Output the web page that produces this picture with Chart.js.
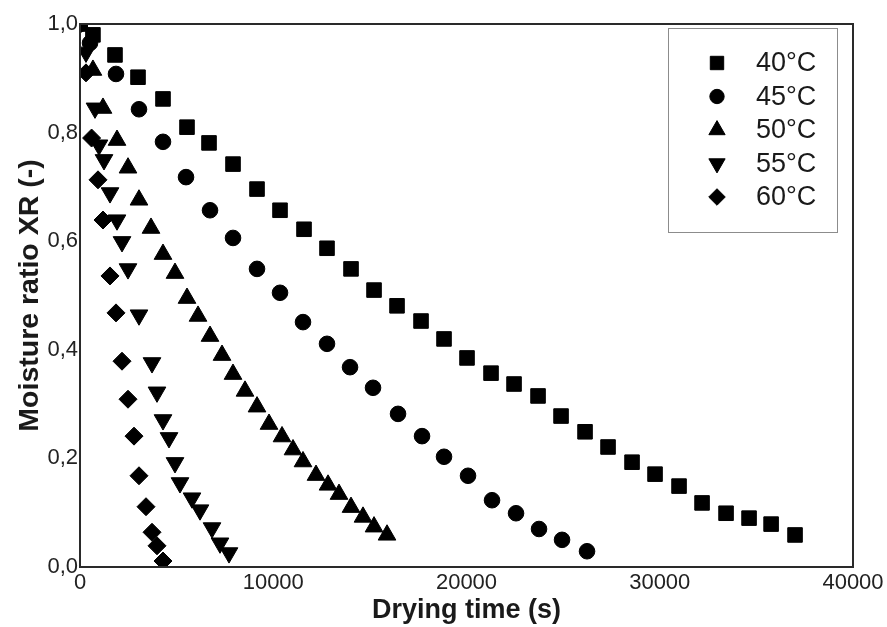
<!DOCTYPE html>
<html>
<head>
<meta charset="utf-8">
<script src="https://cdn.jsdelivr.net/npm/chart.js@4.4.1/dist/chart.umd.min.js"></script>
<style>
  html, body { margin: 0; padding: 0; background: #ffffff; }
  #c { display: block; }
</style>
</head>
<body>
<canvas id="c" width="887" height="627"></canvas>
<script>
// ---- Data ----
const seriesLabels = ['40°C', '45°C', '50°C', '55°C', '60°C'];

const time40 = [0, 670, 1811, 3002, 4295, 5537, 6676, 7918, 9160, 10350, 11592, 12782, 14024, 15215, 16405, 17647, 18837, 20027, 21269, 22460, 23702, 24892, 26134, 27324, 28566, 29756, 30998, 32189, 33431, 34621, 35762, 37001];
const xr40   = [1.0, 0.98, 0.943, 0.902, 0.862, 0.81, 0.781, 0.742, 0.696, 0.657, 0.622, 0.587, 0.549, 0.510, 0.481, 0.453, 0.420, 0.385, 0.357, 0.337, 0.315, 0.278, 0.249, 0.221, 0.193, 0.171, 0.149, 0.118, 0.099, 0.090, 0.079, 0.059];

const time45 = [0, 520, 1863, 3053, 4295, 5486, 6728, 7918, 9160, 10350, 11540, 12782, 13973, 15163, 16457, 17699, 18837, 20079, 21321, 22563, 23753, 24944, 26237];
const xr45   = [1.0, 0.965, 0.908, 0.843, 0.783, 0.718, 0.657, 0.606, 0.549, 0.505, 0.451, 0.411, 0.368, 0.330, 0.282, 0.241, 0.203, 0.168, 0.123, 0.099, 0.070, 0.050, 0.029];

const time50 = [0, 670, 1190, 1915, 2484, 3053, 3674, 4295, 4916, 5537, 6107, 6728, 7349, 7918, 8539, 9160, 9781, 10454, 11023, 11540, 12213, 12834, 13403, 14024, 14645, 15215, 15887];
const xr50   = [1.0, 0.915, 0.845, 0.786, 0.735, 0.676, 0.624, 0.576, 0.541, 0.495, 0.462, 0.425, 0.39, 0.355, 0.324, 0.295, 0.263, 0.240, 0.216, 0.194, 0.169, 0.151, 0.134, 0.110, 0.092, 0.074, 0.059];

const time55 = [0, 310, 776, 983, 1242, 1553, 1915, 2174, 2484, 3053, 3726, 3985, 4295, 4606, 4916, 5175, 5796, 6210, 6831, 7245, 7711];
const xr55   = [1.0, 0.948, 0.845, 0.777, 0.75, 0.689, 0.639, 0.599, 0.549, 0.464, 0.376, 0.322, 0.271, 0.238, 0.192, 0.155, 0.127, 0.105, 0.072, 0.044, 0.026];

const time60 = [0, 310, 600, 932, 1190, 1553, 1863, 2174, 2484, 2795, 3053, 3416, 3726, 3985, 4295];
const xr60   = [1.0, 0.91, 0.79, 0.713, 0.639, 0.536, 0.468, 0.379, 0.309, 0.241, 0.168, 0.111, 0.064, 0.039, 0.011];

const xTickValues = [0, 10000, 20000, 30000, 40000];
const yTickValues = [0.0, 0.2, 0.4, 0.6, 0.8, 1.0];

// ---- Build datasets ----
function pts(t, v) { return t.map((x, i) => ({ x: x, y: v[i] })); }

const styles = [
  { pointStyle: 'rect',     radius: 10.3, rotation: 0 },
  { pointStyle: 'circle',   radius: 7.8,  rotation: 0 },
  { pointStyle: 'triangle', radius: 10.2, rotation: 0 },
  { pointStyle: 'triangle', radius: 10.2, rotation: 180 },
  { pointStyle: 'rectRot',  radius: 9,    rotation: 0 }
];
const allData = [pts(time40, xr40), pts(time45, xr45), pts(time50, xr50), pts(time55, xr55), pts(time60, xr60)];

const datasets = allData.map((d, i) => ({
  label: seriesLabels[i],
  data: d,
  showLine: false,
  pointStyle: styles[i].pointStyle,
  pointRadius: styles[i].radius,
  pointRotation: styles[i].rotation,
  pointBackgroundColor: '#000000',
  pointBorderColor: '#000000',
  pointBorderWidth: 1,
  pointHoverRadius: styles[i].radius
}));

// ---- Plugins: frame box and in-plot legend ----
const framePlugin = {
  id: 'frame',
  afterDraw(chart) {
    const a = chart.chartArea, ctx = chart.ctx;
    ctx.save();
    ctx.strokeStyle = '#2a2a2a';
    ctx.lineWidth = 2;
    ctx.strokeRect(a.left, a.top, a.right - a.left, a.bottom - a.top);
    ctx.restore();
  }
};

const legendPlugin = {
  id: 'insideLegend',
  afterDraw(chart) {
    const ctx = chart.ctx;
    const a = chart.chartArea;
    const boxL = a.right - 185, boxT = a.top + 4, boxW = 169, boxH = 204;
    ctx.save();
    ctx.fillStyle = '#ffffff';
    ctx.fillRect(boxL, boxT, boxW, boxH);
    ctx.strokeStyle = '#8c8c8c';
    ctx.lineWidth = 1;
    ctx.strokeRect(boxL + 0.5, boxT + 0.5, boxW, boxH);
    const rowH = 33.5;
    chart.data.datasets.forEach((ds, i) => {
      const y = boxT + 35 + i * rowH;
      const x = boxL + 49;
      ctx.fillStyle = '#000000';
      ctx.strokeStyle = '#000000';
      const opts = { pointStyle: ds.pointStyle, radius: ds.pointRadius * 0.92, rotation: ds.pointRotation, borderWidth: 1 };
      if (Chart.helpers && Chart.helpers.drawPoint) {
        Chart.helpers.drawPoint(ctx, opts, x, y);
      }
      ctx.fillStyle = '#1a1a1a';
      ctx.font = '27px "Liberation Sans", Arial, sans-serif';
      ctx.textAlign = 'left';
      ctx.textBaseline = 'middle';
      ctx.fillText(ds.label, boxL + 88, y + 1);
    });
    ctx.restore();
  }
};

const FONT = '"Liberation Sans", Arial, Helvetica, sans-serif';

new Chart(document.getElementById('c'), {
  type: 'scatter',
  data: { datasets: datasets },
  options: {
    responsive: false,
    animation: false,
    devicePixelRatio: 1,
    layout: { padding: { left: 0, right: 34, top: 24, bottom: 0 } },
    plugins: {
      legend: { display: false },
      tooltip: { enabled: false }
    },
    scales: {
      x: {
        type: 'linear',
        min: 0, max: 40000,
        afterBuildTicks(scale) { scale.ticks = xTickValues.map(v => ({ value: v })); },
        ticks: {
          font: { family: FONT, size: 22 },
          color: '#222222',
          padding: 3,
          maxRotation: 0,
          callback: (v) => String(v)
        },
        grid: { display: false, drawTicks: false },
        border: { display: false },
        title: {
          display: true,
          text: 'Drying time (s)',
          font: { family: FONT, size: 27, weight: 'bold' },
          color: '#1a1a1a',
          padding: { top: 0, bottom: 0 }
        },
        afterFit(scale) { scale.height = 60; }
      },
      y: {
        type: 'linear',
        min: 0, max: 1,
        afterBuildTicks(scale) { scale.ticks = yTickValues.map(v => ({ value: v })); },
        ticks: {
          font: { family: FONT, size: 22 },
          color: '#222222',
          padding: 2,
          callback: (v) => Number(v).toFixed(1).replace('.', ',')
        },
        grid: { display: false, drawTicks: false },
        border: { display: false },
        title: {
          display: true,
          text: 'Moisture ratio XR (-)',
          font: { family: FONT, size: 28.5, weight: 'bold' },
          color: '#1a1a1a',
          padding: { top: 13, bottom: 0 }
        },
        afterFit(scale) { scale.width = 80; }
      }
    }
  },
  plugins: [framePlugin, legendPlugin]
});
</script>
</body>
</html>
